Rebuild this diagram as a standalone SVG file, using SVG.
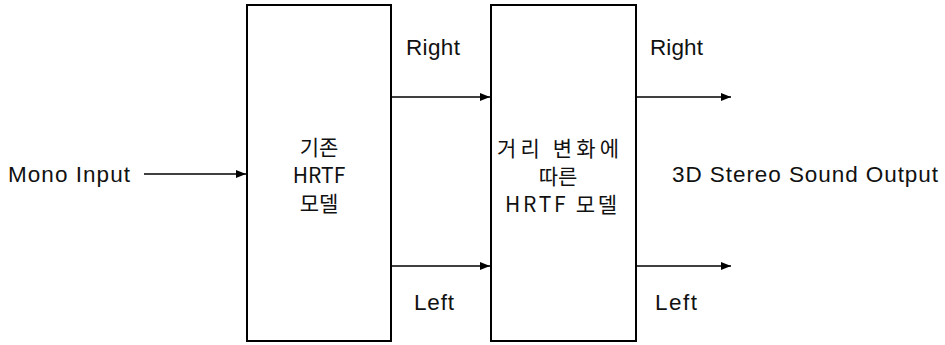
<svg xmlns="http://www.w3.org/2000/svg" width="945" height="345" viewBox="0 0 945 345">
<style>
.box{fill:#fff;stroke:#000;stroke-width:2}
.ln{stroke:#000;stroke-width:1.5;fill:none}
.t{font-family:"Liberation Sans","Noto Sans CJK KR",sans-serif;font-size:22.5px;fill:#111}
.k{font-family:"Noto Sans CJK KR","Liberation Sans",sans-serif;font-size:21px;fill:#111;text-anchor:middle}
</style>
<defs>
<marker id="ah" viewBox="0 0 10 8" refX="10" refY="4" markerWidth="10" markerHeight="8" markerUnits="userSpaceOnUse" orient="auto">
<path d="M0,0 L10,4 L0,8 Z" fill="#000"/>
</marker>
</defs>
<g id="node-hrtf">
<rect class="box" x="247" y="5" width="144" height="336"/>
<text class="k" x="319" y="155">기존</text>
<text class="k" x="319" y="183">HRTF</text>
<text class="k" x="319" y="211">모델</text>
</g>
<g id="node-distance-hrtf">
<rect class="box" x="491" y="5" width="145" height="336"/>
<text class="k" x="558" y="156" textLength="122" lengthAdjust="spacing">거리 변화에</text>
<text class="k" x="558" y="184">따른</text>
<text class="k" x="561" y="212" textLength="112" lengthAdjust="spacing">HRTF 모델</text>
</g>
<g id="labels">
<text class="t" x="8" y="182" textLength="122" lengthAdjust="spacing">Mono Input</text>
<text class="t" x="406" y="55" textLength="54" lengthAdjust="spacing">Right</text>
<text class="t" x="414" y="310" textLength="40" lengthAdjust="spacing">Left</text>
<text class="t" x="650" y="55" textLength="53" lengthAdjust="spacing">Right</text>
<text class="t" x="655" y="310" textLength="42" lengthAdjust="spacing">Left</text>
<text class="t" x="672" y="182" textLength="266" lengthAdjust="spacing">3D Stereo Sound Output</text>
</g>
<g id="connectors">
<line class="ln" x1="144" y1="174" x2="246" y2="174" marker-end="url(#ah)"/>
<line class="ln" x1="391" y1="97" x2="490" y2="97" marker-end="url(#ah)"/>
<line class="ln" x1="391" y1="266" x2="490" y2="266" marker-end="url(#ah)"/>
<line class="ln" x1="636" y1="97" x2="731" y2="97" marker-end="url(#ah)"/>
<line class="ln" x1="636" y1="266" x2="731" y2="266" marker-end="url(#ah)"/>
</g>
</svg>
